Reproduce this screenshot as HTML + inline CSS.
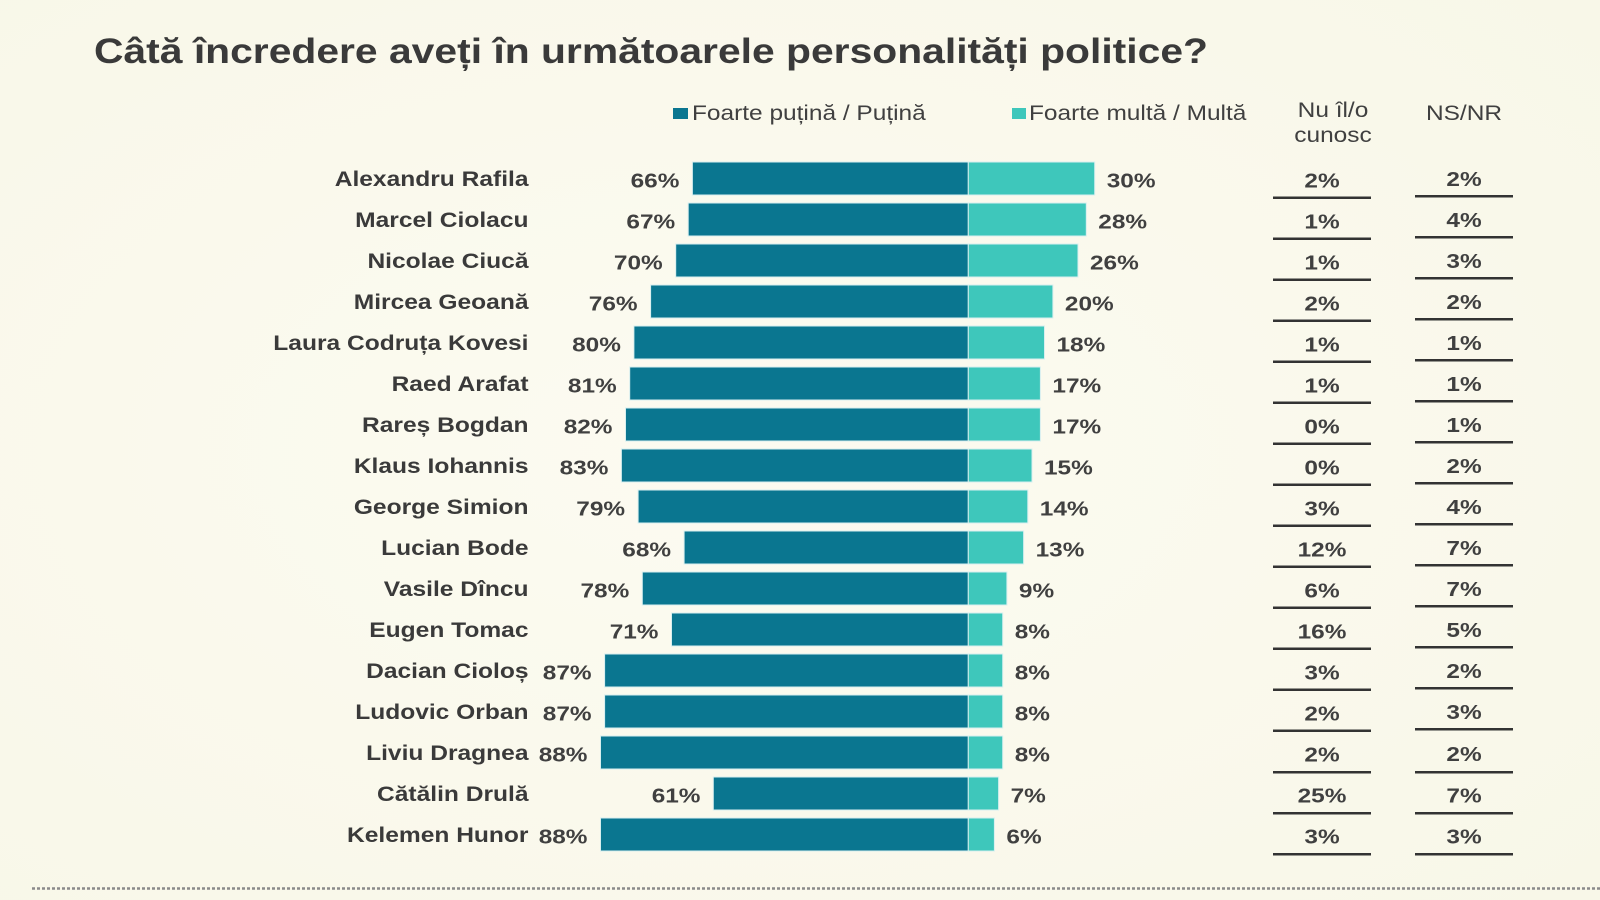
<!DOCTYPE html>
<html>
<head>
<meta charset="utf-8">
<style>
html,body{margin:0;padding:0;background:#faf9ec;}
svg{display:block;}
text{font-family:"Liberation Sans",Arial,sans-serif;}
.nm{font-size:21px;font-weight:bold;fill:#3a3a3a;text-anchor:end;}
.v{font-size:20.5px;font-weight:bold;fill:#404040;}
.ve{font-size:20.5px;font-weight:bold;fill:#404040;text-anchor:end;}
.vm{font-size:20.5px;font-weight:bold;fill:#404040;text-anchor:middle;}
</style>
</head>
<body>
<svg width="1600" height="900" viewBox="0 0 1600 900" xmlns="http://www.w3.org/2000/svg">
<defs>
<radialGradient id="bg" cx="0.45" cy="0.5" r="0.75">
<stop offset="0" stop-color="#fcfbf1"/>
<stop offset="1" stop-color="#f8f7e8"/>
</radialGradient>
</defs>
<rect x="0" y="0" width="1600" height="900" fill="url(#bg)"/>

<!-- Title -->
<g transform="translate(94,63) scale(1.167,1)">
<text x="0" y="0" font-size="35" font-weight="bold" fill="#3a3a3a">Câtă încredere aveți în următoarele personalități politice?</text>
</g>

<!-- Legend -->
<rect x="673" y="108" width="15" height="11" fill="#0a7690"/>
<g transform="translate(692,120) scale(1.165,1)">
<text x="0" y="0" font-size="21" fill="#404040">Foarte puțină / Puțină</text>
</g>
<rect x="1012" y="108" width="14" height="11" fill="#3ec7bb"/>
<g transform="translate(1029,120) scale(1.165,1)">
<text x="0" y="0" font-size="21" fill="#404040">Foarte multă / Multă</text>
</g>

<!-- Column headers -->
<g transform="translate(1333,117) scale(1.165,1)">
<text x="0" y="0" font-size="21" fill="#404040" text-anchor="middle">Nu îl/o</text>
</g>
<g transform="translate(1333,142) scale(1.165,1)">
<text x="0" y="0" font-size="21" fill="#404040" text-anchor="middle">cunosc</text>
</g>
<g transform="translate(1464,120) scale(1.165,1)">
<text x="0" y="0" font-size="21" fill="#404040" text-anchor="middle">NS/NR</text>
</g>

<g id="rows">
<!-- Row 0 -->
<g transform="translate(528.5,186) scale(1.17,1)"><text class="nm">Alexandru Rafila</text></g>
<rect x="692.4" y="162" width="275.9" height="33" fill="#0a7690" stroke="#d8efef" stroke-width="1"/>
<rect x="968.3" y="162" width="126.4" height="33" fill="#3ec7bb" stroke="#d8efef" stroke-width="1"/>
<g transform="translate(679.4,187.3) scale(1.19,1)"><text class="ve">66%</text></g>
<g transform="translate(1106.7,187.3) scale(1.19,1)"><text class="v">30%</text></g>
<g transform="translate(1322,187.3) scale(1.19,1)"><text class="vm">2%</text></g>
<g transform="translate(1464,186) scale(1.19,1)"><text class="vm">2%</text></g>
<rect x="1273" y="196.5" width="98" height="2.5" fill="#333"/>
<rect x="1415" y="195" width="98" height="2.5" fill="#333"/>

<!-- Row 1 -->
<g transform="translate(528.5,227) scale(1.17,1)"><text class="nm">Marcel Ciolacu</text></g>
<rect x="688.2" y="203" width="280.1" height="33" fill="#0a7690" stroke="#d8efef" stroke-width="1"/>
<rect x="968.3" y="203" width="118" height="33" fill="#3ec7bb" stroke="#d8efef" stroke-width="1"/>
<g transform="translate(675.2,228.3) scale(1.19,1)"><text class="ve">67%</text></g>
<g transform="translate(1098.3,228.3) scale(1.19,1)"><text class="v">28%</text></g>
<g transform="translate(1322,228.3) scale(1.19,1)"><text class="vm">1%</text></g>
<g transform="translate(1464,227) scale(1.19,1)"><text class="vm">4%</text></g>
<rect x="1273" y="237.5" width="98" height="2.5" fill="#333"/>
<rect x="1415" y="236" width="98" height="2.5" fill="#333"/>

<!-- Row 2 -->
<g transform="translate(528.5,268) scale(1.17,1)"><text class="nm">Nicolae Ciucă</text></g>
<rect x="675.7" y="244" width="292.6" height="33" fill="#0a7690" stroke="#d8efef" stroke-width="1"/>
<rect x="968.3" y="244" width="109.7" height="33" fill="#3ec7bb" stroke="#d8efef" stroke-width="1"/>
<g transform="translate(662.7,269.3) scale(1.19,1)"><text class="ve">70%</text></g>
<g transform="translate(1090,269.3) scale(1.19,1)"><text class="v">26%</text></g>
<g transform="translate(1322,269.3) scale(1.19,1)"><text class="vm">1%</text></g>
<g transform="translate(1464,268) scale(1.19,1)"><text class="vm">3%</text></g>
<rect x="1273" y="278.5" width="98" height="2.5" fill="#333"/>
<rect x="1415" y="277" width="98" height="2.5" fill="#333"/>

<!-- Row 3 -->
<g transform="translate(528.5,309) scale(1.17,1)"><text class="nm">Mircea Geoană</text></g>
<rect x="650.6" y="285" width="317.7" height="33" fill="#0a7690" stroke="#d8efef" stroke-width="1"/>
<rect x="968.3" y="285" width="84.6" height="33" fill="#3ec7bb" stroke="#d8efef" stroke-width="1"/>
<g transform="translate(637.6,310.3) scale(1.19,1)"><text class="ve">76%</text></g>
<g transform="translate(1064.9,310.3) scale(1.19,1)"><text class="v">20%</text></g>
<g transform="translate(1322,310.3) scale(1.19,1)"><text class="vm">2%</text></g>
<g transform="translate(1464,309) scale(1.19,1)"><text class="vm">2%</text></g>
<rect x="1273" y="319.5" width="98" height="2.5" fill="#333"/>
<rect x="1415" y="318" width="98" height="2.5" fill="#333"/>

<!-- Row 4 -->
<g transform="translate(528.5,350) scale(1.17,1)"><text class="nm">Laura Codruța Kovesi</text></g>
<rect x="633.9" y="326" width="334.4" height="33" fill="#0a7690" stroke="#d8efef" stroke-width="1"/>
<rect x="968.3" y="326" width="76.2" height="33" fill="#3ec7bb" stroke="#d8efef" stroke-width="1"/>
<g transform="translate(620.9,351.3) scale(1.19,1)"><text class="ve">80%</text></g>
<g transform="translate(1056.5,351.3) scale(1.19,1)"><text class="v">18%</text></g>
<g transform="translate(1322,351.3) scale(1.19,1)"><text class="vm">1%</text></g>
<g transform="translate(1464,350) scale(1.19,1)"><text class="vm">1%</text></g>
<rect x="1273" y="360.5" width="98" height="2.5" fill="#333"/>
<rect x="1415" y="359" width="98" height="2.5" fill="#333"/>

<!-- Row 5 -->
<g transform="translate(528.5,391) scale(1.17,1)"><text class="nm">Raed Arafat</text></g>
<rect x="629.7" y="367" width="338.6" height="33" fill="#0a7690" stroke="#d8efef" stroke-width="1"/>
<rect x="968.3" y="367" width="72.1" height="33" fill="#3ec7bb" stroke="#d8efef" stroke-width="1"/>
<g transform="translate(616.7,392.3) scale(1.19,1)"><text class="ve">81%</text></g>
<g transform="translate(1052.4,392.3) scale(1.19,1)"><text class="v">17%</text></g>
<g transform="translate(1322,392.3) scale(1.19,1)"><text class="vm">1%</text></g>
<g transform="translate(1464,391) scale(1.19,1)"><text class="vm">1%</text></g>
<rect x="1273" y="401.5" width="98" height="2.5" fill="#333"/>
<rect x="1415" y="400" width="98" height="2.5" fill="#333"/>

<!-- Row 6 -->
<g transform="translate(528.5,432) scale(1.17,1)"><text class="nm">Rareș Bogdan</text></g>
<rect x="625.5" y="408" width="342.8" height="33" fill="#0a7690" stroke="#d8efef" stroke-width="1"/>
<rect x="968.3" y="408" width="72.1" height="33" fill="#3ec7bb" stroke="#d8efef" stroke-width="1"/>
<g transform="translate(612.5,433.3) scale(1.19,1)"><text class="ve">82%</text></g>
<g transform="translate(1052.4,433.3) scale(1.19,1)"><text class="v">17%</text></g>
<g transform="translate(1322,433.3) scale(1.19,1)"><text class="vm">0%</text></g>
<g transform="translate(1464,432) scale(1.19,1)"><text class="vm">1%</text></g>
<rect x="1273" y="442.5" width="98" height="2.5" fill="#333"/>
<rect x="1415" y="441" width="98" height="2.5" fill="#333"/>

<!-- Row 7 -->
<g transform="translate(528.5,473) scale(1.17,1)"><text class="nm">Klaus Iohannis</text></g>
<rect x="621.4" y="449" width="346.9" height="33" fill="#0a7690" stroke="#d8efef" stroke-width="1"/>
<rect x="968.3" y="449" width="63.7" height="33" fill="#3ec7bb" stroke="#d8efef" stroke-width="1"/>
<g transform="translate(608.4,474.3) scale(1.19,1)"><text class="ve">83%</text></g>
<g transform="translate(1044,474.3) scale(1.19,1)"><text class="v">15%</text></g>
<g transform="translate(1322,474.3) scale(1.19,1)"><text class="vm">0%</text></g>
<g transform="translate(1464,473) scale(1.19,1)"><text class="vm">2%</text></g>
<rect x="1273" y="483.5" width="98" height="2.5" fill="#333"/>
<rect x="1415" y="482" width="98" height="2.5" fill="#333"/>

<!-- Row 8 -->
<g transform="translate(528.5,514) scale(1.17,1)"><text class="nm">George Simion</text></g>
<rect x="638.1" y="490" width="330.2" height="33" fill="#0a7690" stroke="#d8efef" stroke-width="1"/>
<rect x="968.3" y="490" width="59.5" height="33" fill="#3ec7bb" stroke="#d8efef" stroke-width="1"/>
<g transform="translate(625.1,515.3) scale(1.19,1)"><text class="ve">79%</text></g>
<g transform="translate(1039.8,515.3) scale(1.19,1)"><text class="v">14%</text></g>
<g transform="translate(1322,515.3) scale(1.19,1)"><text class="vm">3%</text></g>
<g transform="translate(1464,514) scale(1.19,1)"><text class="vm">4%</text></g>
<rect x="1273" y="524.5" width="98" height="2.5" fill="#333"/>
<rect x="1415" y="523" width="98" height="2.5" fill="#333"/>

<!-- Row 9 -->
<g transform="translate(528.5,555) scale(1.17,1)"><text class="nm">Lucian Bode</text></g>
<rect x="684.1" y="531" width="284.2" height="33" fill="#0a7690" stroke="#d8efef" stroke-width="1"/>
<rect x="968.3" y="531" width="55.3" height="33" fill="#3ec7bb" stroke="#d8efef" stroke-width="1"/>
<g transform="translate(671.1,556.3) scale(1.19,1)"><text class="ve">68%</text></g>
<g transform="translate(1035.6,556.3) scale(1.19,1)"><text class="v">13%</text></g>
<g transform="translate(1322,556.3) scale(1.19,1)"><text class="vm">12%</text></g>
<g transform="translate(1464,555) scale(1.19,1)"><text class="vm">7%</text></g>
<rect x="1273" y="565.5" width="98" height="2.5" fill="#333"/>
<rect x="1415" y="564" width="98" height="2.5" fill="#333"/>

<!-- Row 10 -->
<g transform="translate(528.5,596) scale(1.17,1)"><text class="nm">Vasile Dîncu</text></g>
<rect x="642.3" y="572" width="326" height="33" fill="#0a7690" stroke="#d8efef" stroke-width="1"/>
<rect x="968.3" y="572" width="38.6" height="33" fill="#3ec7bb" stroke="#d8efef" stroke-width="1"/>
<g transform="translate(629.3,597.3) scale(1.19,1)"><text class="ve">78%</text></g>
<g transform="translate(1018.9,597.3) scale(1.19,1)"><text class="v">9%</text></g>
<g transform="translate(1322,597.3) scale(1.19,1)"><text class="vm">6%</text></g>
<g transform="translate(1464,596) scale(1.19,1)"><text class="vm">7%</text></g>
<rect x="1273" y="606.5" width="98" height="2.5" fill="#333"/>
<rect x="1415" y="605" width="98" height="2.5" fill="#333"/>

<!-- Row 11 -->
<g transform="translate(528.5,637) scale(1.17,1)"><text class="nm">Eugen Tomac</text></g>
<rect x="671.5" y="613" width="296.8" height="33" fill="#0a7690" stroke="#d8efef" stroke-width="1"/>
<rect x="968.3" y="613" width="34.4" height="33" fill="#3ec7bb" stroke="#d8efef" stroke-width="1"/>
<g transform="translate(658.5,638.3) scale(1.19,1)"><text class="ve">71%</text></g>
<g transform="translate(1014.7,638.3) scale(1.19,1)"><text class="v">8%</text></g>
<g transform="translate(1322,638.3) scale(1.19,1)"><text class="vm">16%</text></g>
<g transform="translate(1464,637) scale(1.19,1)"><text class="vm">5%</text></g>
<rect x="1273" y="647.5" width="98" height="2.5" fill="#333"/>
<rect x="1415" y="646" width="98" height="2.5" fill="#333"/>

<!-- Row 12 -->
<g transform="translate(528.5,678) scale(1.17,1)"><text class="nm">Dacian Cioloș</text></g>
<rect x="604.6" y="654" width="363.7" height="33" fill="#0a7690" stroke="#d8efef" stroke-width="1"/>
<rect x="968.3" y="654" width="34.4" height="33" fill="#3ec7bb" stroke="#d8efef" stroke-width="1"/>
<g transform="translate(591.6,679.3) scale(1.19,1)"><text class="ve">87%</text></g>
<g transform="translate(1014.7,679.3) scale(1.19,1)"><text class="v">8%</text></g>
<g transform="translate(1322,679.3) scale(1.19,1)"><text class="vm">3%</text></g>
<g transform="translate(1464,678) scale(1.19,1)"><text class="vm">2%</text></g>
<rect x="1273" y="688.5" width="98" height="2.5" fill="#333"/>
<rect x="1415" y="687" width="98" height="2.5" fill="#333"/>

<!-- Row 13 -->
<g transform="translate(528.5,719) scale(1.17,1)"><text class="nm">Ludovic Orban</text></g>
<rect x="604.6" y="695" width="363.7" height="33" fill="#0a7690" stroke="#d8efef" stroke-width="1"/>
<rect x="968.3" y="695" width="34.4" height="33" fill="#3ec7bb" stroke="#d8efef" stroke-width="1"/>
<g transform="translate(591.6,720.3) scale(1.19,1)"><text class="ve">87%</text></g>
<g transform="translate(1014.7,720.3) scale(1.19,1)"><text class="v">8%</text></g>
<g transform="translate(1322,720.3) scale(1.19,1)"><text class="vm">2%</text></g>
<g transform="translate(1464,719) scale(1.19,1)"><text class="vm">3%</text></g>
<rect x="1273" y="729.5" width="98" height="2.5" fill="#333"/>
<rect x="1415" y="728" width="98" height="2.5" fill="#333"/>

<!-- Row 14 -->
<g transform="translate(528.5,760) scale(1.17,1)"><text class="nm">Liviu Dragnea</text></g>
<rect x="600.5" y="736" width="367.8" height="33" fill="#0a7690" stroke="#d8efef" stroke-width="1"/>
<rect x="968.3" y="736" width="34.4" height="33" fill="#3ec7bb" stroke="#d8efef" stroke-width="1"/>
<g transform="translate(587.5,761.3) scale(1.19,1)"><text class="ve">88%</text></g>
<g transform="translate(1014.7,761.3) scale(1.19,1)"><text class="v">8%</text></g>
<g transform="translate(1322,761.3) scale(1.19,1)"><text class="vm">2%</text></g>
<g transform="translate(1464,761) scale(1.19,1)"><text class="vm">2%</text></g>
<rect x="1273" y="771" width="98" height="2.5" fill="#333"/>
<rect x="1415" y="771" width="98" height="2.5" fill="#333"/>

<!-- Row 15 -->
<g transform="translate(528.5,801) scale(1.17,1)"><text class="nm">Cătălin Drulă</text></g>
<rect x="713.3" y="777" width="255" height="33" fill="#0a7690" stroke="#d8efef" stroke-width="1"/>
<rect x="968.3" y="777" width="30.3" height="33" fill="#3ec7bb" stroke="#d8efef" stroke-width="1"/>
<g transform="translate(700.5,802.3) scale(1.19,1)"><text class="ve">61%</text></g>
<g transform="translate(1010.6,802.3) scale(1.19,1)"><text class="v">7%</text></g>
<g transform="translate(1322,802.3) scale(1.19,1)"><text class="vm">25%</text></g>
<g transform="translate(1464,802.3) scale(1.19,1)"><text class="vm">7%</text></g>
<rect x="1273" y="812" width="98" height="2.5" fill="#333"/>
<rect x="1415" y="812" width="98" height="2.5" fill="#333"/>

<!-- Row 16 -->
<g transform="translate(528.5,842) scale(1.17,1)"><text class="nm">Kelemen Hunor</text></g>
<rect x="600.5" y="818" width="367.8" height="33" fill="#0a7690" stroke="#d8efef" stroke-width="1"/>
<rect x="968.3" y="818" width="26.1" height="33" fill="#3ec7bb" stroke="#d8efef" stroke-width="1"/>
<g transform="translate(587.5,843.3) scale(1.19,1)"><text class="ve">88%</text></g>
<g transform="translate(1006.4,843.3) scale(1.19,1)"><text class="v">6%</text></g>
<g transform="translate(1322,843.3) scale(1.19,1)"><text class="vm">3%</text></g>
<g transform="translate(1464,843.3) scale(1.19,1)"><text class="vm">3%</text></g>
<rect x="1273" y="853" width="98" height="2.5" fill="#333"/>
<rect x="1415" y="853" width="98" height="2.5" fill="#333"/>
</g>

<!-- Dotted bottom line -->
<line x1="32" y1="888.5" x2="1600" y2="888.5" stroke="#8a8a8a" stroke-width="2.5" stroke-dasharray="3 2"/>
</svg>
</body>
</html>
